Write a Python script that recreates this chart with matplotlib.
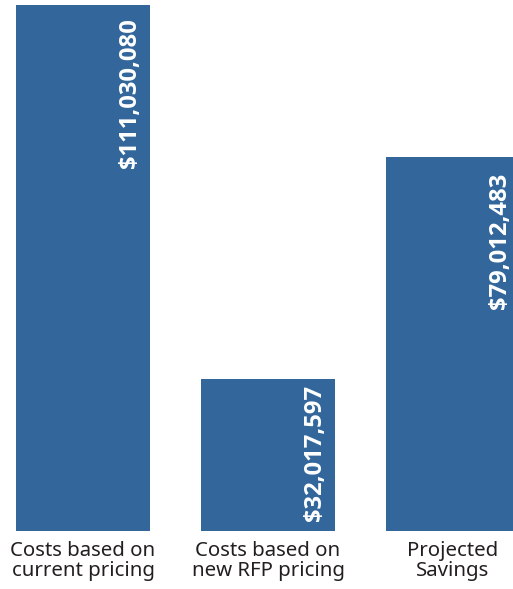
import matplotlib
matplotlib.use("Agg")
import matplotlib.pyplot as plt

# cost comparison data
categories = ["Costs based on\ncurrent pricing",
              "Costs based on\nnew RFP pricing",
              "Projected\nSavings"]
values = [111030080, 32017597, 79012483]
value_labels = ["$111,030,080", "$32,017,597", "$79,012,483"]

BAR_COLOR = "#33679b"
# gap (px) between bar top and its label
label_gap = [13, 6, 16]

fig = plt.figure(figsize=(5.13, 5.89), dpi=100)
# axes spans full width; bottom sits where the bars start
ax = fig.add_axes([0, 58 / 589, 1, 531 / 589])

x = list(range(len(categories)))
ax.bar(x, values, width=0.724, color=BAR_COLOR)

ax.set_xlim(-83 / 185, (513 - 83) / 185)
ax.set_ylim(0, values[0] * 531 / 526)

# value labels rotated inside the top of each bar
for xi, v, lab, gap in zip(x, values, value_labels, label_gap):
    ax.annotate(lab, xy=(xi + 0.252, v), xytext=(0, -gap),
                textcoords="offset pixels", rotation=90,
                ha="center", va="top", color="white",
                fontsize=17.2, fontweight="bold", family="Open Sans")

ax.set_xticks(x)
ax.set_xticklabels(categories, fontsize=14.7, color="#231f20",
                   family="Noto Sans", linespacing=1.0)
ax.tick_params(axis="x", length=0, pad=7)
ax.set_yticks([])
for s in ax.spines.values():
    s.set_visible(False)

fig.savefig("out.png", dpi=100)
